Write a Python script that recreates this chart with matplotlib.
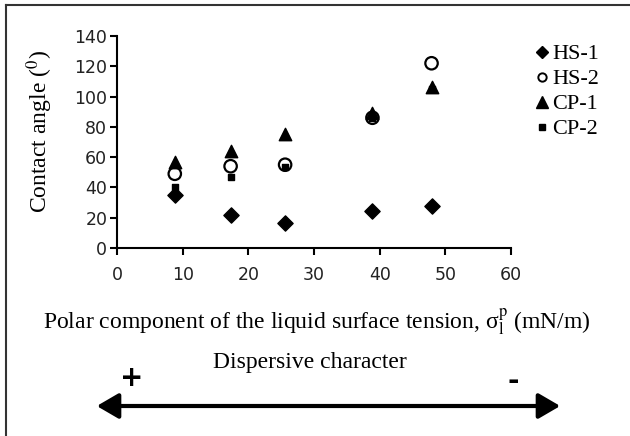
import matplotlib
matplotlib.use('Agg')
import matplotlib.pyplot as plt
from matplotlib.patches import FancyArrowPatch
from matplotlib.lines import Line2D

# polar component of the liquid surface tension (mN/m)
polar = [8.8, 17.3, 25.6, 38.9, 47.9]

# contact angles (deg) for each sample
hs1 = [35, 21.5, 16.5, 24.5, 27.5]
hs2 = [49, 54, 55, 86, 122]
cp1 = [57, 64, 75, 89, 106]
cp2 = [40, 47, 53.5, 86, 105]

labels = ['HS-1', 'HS-2', 'CP-1', 'CP-2']
xticks = [0, 10, 20, 30, 40, 50, 60]
yticks = [0, 20, 40, 60, 80, 100, 120, 140]

plt.rcParams['mathtext.fontset'] = 'stix'
serif = 'Liberation Serif'

W, H = 630, 436
fig = plt.figure(figsize=(W / 100, H / 100), dpi=100)

def px(x, y):
    # pixel coords (from top-left) -> figure fraction
    return x / W, 1 - y / H

ax = fig.add_axes([117 / W, (H - 248) / H, (511 - 117) / W, (248 - 36) / H])

ax.scatter(polar, hs1, marker='D', s=60, color='black', zorder=3)
ax.scatter(polar, cp2, marker='s', s=24, color='black', zorder=3)
ax.scatter(polar, cp1, marker='^', s=80, color='black', zorder=4)
ax.scatter(polar, hs2, marker='o', s=80, facecolors='none', edgecolors='black',
           linewidths=1.6, zorder=5)

ax.set_xlim(0, 60)
ax.set_ylim(0, 140)
ax.set_xticks(xticks)
ax.set_yticks(yticks)
ax.spines['top'].set_visible(False)
ax.spines['right'].set_visible(False)
ax.spines['left'].set_linewidth(1.5)
ax.spines['bottom'].set_linewidth(1.5)
ax.tick_params(direction='out', length=5, width=1.5, labelsize=12.5, pad=2)
ax.tick_params(axis='x', pad=8)
for t in ax.get_xticklabels() + ax.get_yticklabels():
    t.set_color('#222222')

# legend
handles = [
    Line2D([], [], marker='D', ls='none', color='black', markersize=6),
    Line2D([], [], marker='o', ls='none', markerfacecolor='none',
           markeredgecolor='black', markeredgewidth=1.4, markersize=6),
    Line2D([], [], marker='^', ls='none', color='black', markersize=8),
    Line2D([], [], marker='s', ls='none', color='black', markersize=4.5),
]
leg = fig.legend(handles, labels, loc='upper left', bbox_to_anchor=px(527, 35),
                 frameon=False, prop={'family': serif, 'size': 16},
                 handlelength=0.55, handletextpad=0.2, labelspacing=0.2,
                 borderaxespad=0)

# axis titles
fig.text(*px(40, 132), r'Contact angle ($^{0}$)', rotation=90, ha='center',
         va='center', family=serif, fontsize=17)
fig.text(*px(317, 322),
         'Polar component of the liquid surface tension, σ' + r'$_{\rm l}^{\rm p}$' + ' (mN/m)',
         ha='center', va='center', family=serif, fontsize=17)
fig.text(*px(310, 362), 'Dispersive character', ha='center', va='center',
         family=serif, fontsize=17)
fig.text(*px(132, 378), '+', ha='center', va='center', fontsize=20,
         fontweight='bold')
fig.text(*px(513, 381), '-', ha='center', va='center', fontsize=20,
         fontweight='bold')

# double arrow
arr = FancyArrowPatch(px(94, 406), px(563, 406), transform=fig.transFigure,
                      arrowstyle='<|-|>,head_length=1.2,head_width=0.7',
                      mutation_scale=11, lw=3, color='black')
fig.patches.append(arr)

# frame around the figure (only left and top visible in the original)
fig.add_artist(Line2D([6 / W, 6 / W], [0, 1 - 5 / H], transform=fig.transFigure,
                      color='#333333', lw=1.5))
fig.add_artist(Line2D([6 / W, 1], [1 - 5 / H, 1 - 5 / H], transform=fig.transFigure,
                      color='#333333', lw=1.5))

fig.savefig('out.png', dpi=100)
